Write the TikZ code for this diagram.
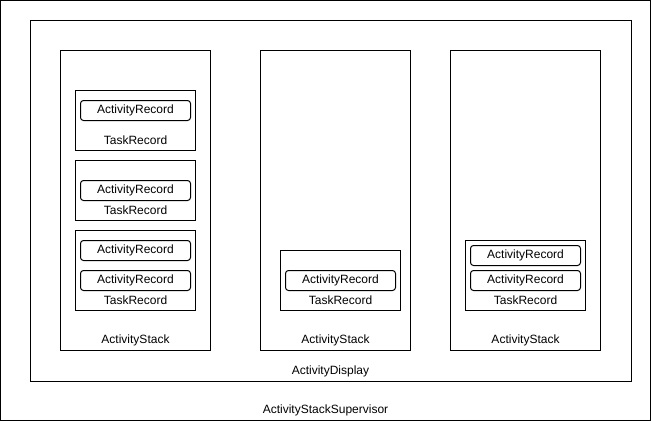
\documentclass[tikz,border=0pt]{standalone}
\usepackage{fontspec}
\setmainfont{Liberation Sans}
\begin{document}
\begin{tikzpicture}[x=1pt,y=-1pt,line width=1pt,font=\fontsize{12}{14}\selectfont,
  frame/.style 2 args={draw,inner sep=0pt,minimum width=#1,minimum height=#2},
  record/.style={draw,rounded corners=3pt,inner sep=0pt,minimum width=110pt,minimum height=20pt},
  tag/.style={inner sep=0pt}]
  \useasboundingbox (0,0) rectangle (651,421);
  \begin{scope}[shift={(0.5,0.5)}]
  % containers
  \node [frame={650pt}{420pt}] (supervisor) at (325,210) {};
  \node [frame={601pt}{361pt}] (display) at (330.5,200.5) {};
  \foreach \x/\name in {135/stackA,335/stackB,525/stackC}{
    \node [frame={150pt}{300pt}] (\name) at (\x,200) {};
    \node [tag] at (\x,340) {ActivityStack};
  }
  \node [tag] at (330,371) {ActivityDisplay};
  \node [tag] at (325,410) {ActivityStackSupervisor};
  % first stack
  \node [frame={120pt}{60pt}] (taskA) at (135,120) {};
  \node [record] (recA) at (135,110) {ActivityRecord};
  \node [tag] at (135,140) {TaskRecord};
  \node [frame={120pt}{60pt}] (taskB) at (135,190) {};
  \node [record] (recB) at (135,190) {ActivityRecord};
  \node [tag] at (135,210) {TaskRecord};
  \node [frame={120pt}{80pt}] (taskC) at (135,270) {};
  \node [record] (recC) at (135,250) {ActivityRecord};
  \node [record] (recD) at (135,280) {ActivityRecord};
  \node [tag] at (135,300) {TaskRecord};
  % second stack
  \node [frame={120pt}{60pt}] (taskD) at (340,280) {};
  \node [record] (recE) at (340,280) {ActivityRecord};
  \node [tag] at (340,300) {TaskRecord};
  % third stack
  \node [frame={120pt}{70pt}] (taskE) at (525,275) {};
  \node [record] (recF) at (525,255) {ActivityRecord};
  \node [record] (recG) at (525,280) {ActivityRecord};
  \node [tag] at (525,300) {TaskRecord};
  \end{scope}
\end{tikzpicture}
\end{document}
